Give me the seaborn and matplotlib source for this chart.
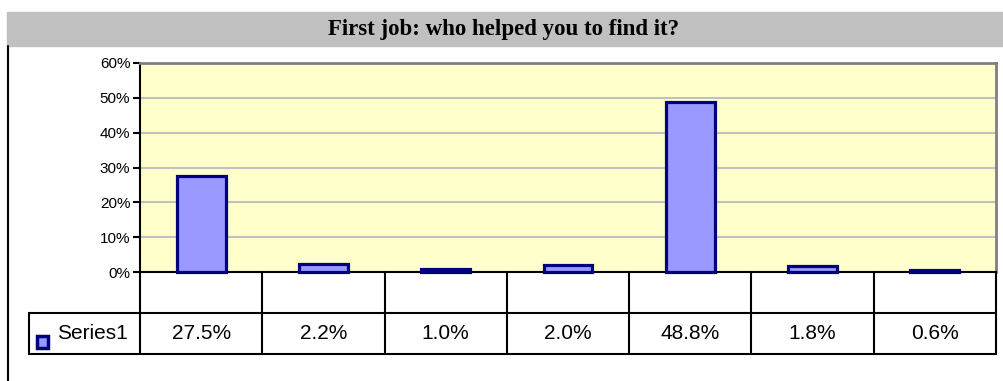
import numpy as np
import pandas as pd
import matplotlib
matplotlib.use("Agg")
import matplotlib.pyplot as plt
from matplotlib.ticker import PercentFormatter, FixedLocator
from matplotlib.lines import Line2D
from matplotlib.patches import Rectangle
from matplotlib.transforms import blended_transform_factory
import seaborn as sns

# Chart content
title = "First job: who helped you to find it?"
series_name = "Series1"
options = [1, 2, 3, 4, 5, 6, 7]
shares = [27.5, 2.2, 1.0, 2.0, 48.8, 1.8, 0.6]   # percent
y_ticks = [0, 10, 20, 30, 40, 50, 60]             # percent

sns.set_theme(style="white")
plt.rcParams["font.family"] = ["Liberation Sans", "DejaVu Sans"]

W, H = 1004, 381
fig = plt.figure(figsize=(W / 100, H / 100), dpi=100)


def fx(px):
    return px / W


def fy(py):
    return 1 - py / H


# Plot area
ax = fig.add_axes([fx(140), fy(272), fx(996) - fx(140), fy(63) - fy(272)])
df = pd.DataFrame({"option": options, "share": np.array(shares) / 100})
sns.barplot(data=df, x="option", y="share", ax=ax, width=0.4,
            color="#9999FF", saturation=1, edgecolor="#000080",
            linewidth=2.3, errorbar=None)
for p in ax.patches:
    p.set_clip_on(False)
    p.set_zorder(3)

ax.set_facecolor("#FFFFCC")
ax.set_xlim(-0.5, len(options) - 0.5)
ax.set_ylim(y_ticks[0] / 100, y_ticks[-1] / 100)
ax.yaxis.set_major_locator(FixedLocator([t / 100 for t in y_ticks]))
ax.yaxis.set_major_formatter(PercentFormatter(1.0, decimals=0))
ax.yaxis.grid(True, color="#C0C0C0", linewidth=1.5)
ax.xaxis.grid(False)
ax.set_axisbelow(True)
ax.set_xticks([])
ax.set_xlabel("")
ax.set_ylabel("")
ax.tick_params(axis="y", left=True, length=5, width=1.5, color="black",
               labelsize=11, pad=2, labelcolor="black")
for side in ("top", "right"):
    ax.spines[side].set_color("#808080")
    ax.spines[side].set_linewidth(2)
for side in ("left", "bottom"):
    ax.spines[side].set_color("black")
    ax.spines[side].set_linewidth(1.5)

# Title band
fig.patches.append(Rectangle((fx(7), fy(46)), 1 - fx(7), fy(12) - fy(46),
                             transform=fig.transFigure, color="#C0C0C0",
                             zorder=0))
fig.text(fx(504), fy(29), title, ha="center", va="center", fontsize=16.5,
         fontweight="bold", family="Liberation Serif", color="black")

# Frame line on the left
fig.add_artist(Line2D([fx(8.5), fx(8.5)], [fy(46), 0], color="black",
                      linewidth=1.5, transform=fig.transFigure))

# Data table under the plot
tb = blended_transform_factory(ax.transData, fig.transFigure)
n = len(options)
for k in range(n + 1):
    xb = k - 0.5
    fig.add_artist(Line2D([xb, xb], [fy(272), fy(354)], color="black",
                          linewidth=1.5, transform=tb))
lx0 = ax.transData.inverted().transform((fig.transFigure.transform((fx(29), 0))[0], 0))[0]
for yrow in (313, 354):
    fig.add_artist(Line2D([lx0, n - 0.5], [fy(yrow), fy(yrow)], color="black",
                          linewidth=1.5, transform=tb))
fig.add_artist(Line2D([lx0, lx0], [fy(313), fy(354)], color="black",
                      linewidth=1.5, transform=tb))

for i, v in enumerate(shares):
    fig.text(i, fy(333.5), f"{v:.1f}%", transform=tb, ha="center",
             va="center", fontsize=15, color="black")

# Legend key and series name
fig.patches.append(Rectangle((fx(36.5), fy(347.5)), fx(48.5) - fx(36.5),
                             fy(335.5) - fy(347.5),
                             transform=fig.transFigure, facecolor="#9999FF",
                             edgecolor="#000080", linewidth=2.5))
fig.text(fx(57), fy(333.5), series_name, ha="left", va="center",
         fontsize=15, color="black")

fig.savefig("out.png", dpi=100, facecolor="white")
